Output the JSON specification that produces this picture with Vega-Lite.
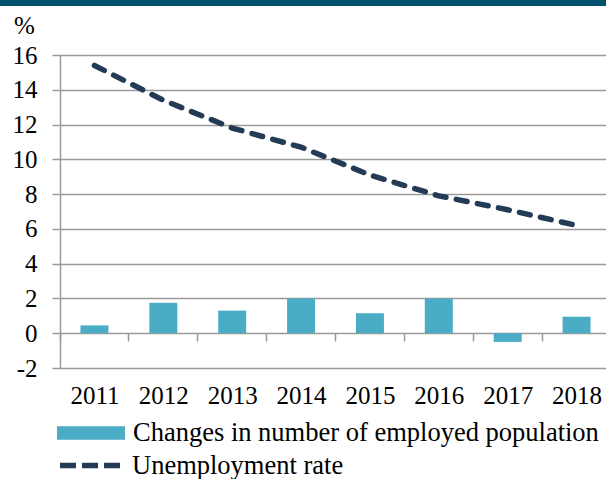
{
  "$schema": "https://vega.github.io/schema/vega-lite/v6.json",
  "width": 551,
  "height": 313,
  "autosize": {"type": "none"},
  "padding": {"left": 60, "top": 55, "right": 0, "bottom": 111},
  "background": "white",
  "config": {
    "view": {"stroke": null},
    "font": "Liberation Serif",
    "axis": {
      "labelFont": "Liberation Serif",
      "labelFontSize": 25,
      "labelColor": "black",
      "titleFont": "Liberation Serif",
      "titleFontSize": 25,
      "titleFontWeight": "normal",
      "titleColor": "black"
    },
    "legend": {
      "labelFont": "Liberation Serif",
      "labelFontSize": 26.5,
      "labelColor": "black",
      "labelLimit": 600
    }
  },
  "data": {
    "values": [
      {"year": "2011", "change": 0.45, "rate": 15.4},
      {"year": "2012", "change": 1.75, "rate": 13.4},
      {"year": "2013", "change": 1.3, "rate": 11.8},
      {"year": "2014", "change": 2.0, "rate": 10.7},
      {"year": "2015", "change": 1.15, "rate": 9.1},
      {"year": "2016", "change": 2.0, "rate": 7.9},
      {"year": "2017", "change": -0.5, "rate": 7.1},
      {"year": "2018", "change": 0.95, "rate": 6.2}
    ]
  },
  "resolve": {"scale": {"x": "independent", "fill": "independent", "stroke": "independent"}, "axis": {"x": "independent"}, "legend": {"fill": "independent", "stroke": "independent"}},
  "layer": [
    {
      "mark": {"type": "rect", "color": "#03506f", "clip": false},
      "encoding": {
        "x": {"datum": -0.2, "type": "quantitative", "scale": {"domain": [0, 1]}, "axis": null},
        "x2": {"datum": 1.2},
        "y": {
          "datum": 19.4,
          "type": "quantitative",
          "scale": {"domain": [-2, 16], "nice": false, "zero": false},
          "axis": {
            "title": "%",
            "titleAngle": 0,
            "titleX": -36,
            "titleY": -22,
            "titleAlign": "center",
            "titleBaseline": "alphabetic",
            "values": [-2, 0, 2, 4, 6, 8, 10, 12, 14, 16],
            "labelExpr": "'' + datum.value",
            "labelOverlap": false,
            "labelBound": false,
            "labelFlush": false,
            "grid": true,
            "gridColor": "#9a9a9a",
            "gridWidth": 1.5,
            "domainColor": "#9a9a9a",
            "domainWidth": 1.5,
            "tickColor": "#9a9a9a",
            "tickWidth": 1.5,
            "tickSize": 8,
            "labelPadding": 15
          }
        },
        "y2": {"datum": 18.82}
      }
    },
    {
      "mark": {"type": "bar", "size": 28},
      "encoding": {
        "x": {
          "field": "year",
          "type": "nominal",
          "scale": {"type": "band", "paddingInner": 0, "paddingOuter": 0},
          "axis": {
            "title": null,
            "orient": "bottom",
            "offset": -35,
            "labels": false,
            "domain": false,
            "grid": false,
            "ticks": true,
            "bandPosition": 0,
            "tickSize": 8,
            "tickWidth": 1.5,
            "tickColor": "#9a9a9a"
          }
        },
        "y": {
          "field": "change",
          "type": "quantitative",
          "scale": {"domain": [-2, 16], "nice": false, "zero": false},
          "axis": {
            "title": "%",
            "titleAngle": 0,
            "titleX": -36,
            "titleY": -22,
            "titleAlign": "center",
            "titleBaseline": "alphabetic",
            "values": [-2, 0, 2, 4, 6, 8, 10, 12, 14, 16],
            "labelExpr": "'' + datum.value",
            "labelOverlap": false,
            "labelBound": false,
            "labelFlush": false,
            "grid": true,
            "gridColor": "#9a9a9a",
            "gridWidth": 1.5,
            "domainColor": "#9a9a9a",
            "domainWidth": 1.5,
            "tickColor": "#9a9a9a",
            "tickWidth": 1.5,
            "tickSize": 8,
            "labelPadding": 15
          }
        },
        "fill": {
          "datum": "Changes in number of employed population",
          "type": "nominal",
          "scale": {"range": ["#4bacc6"]},
          "legend": {
            "title": null,
            "orient": "none",
            "legendX": -3,
            "legendY": 344,
            "symbolType": "M-1,-0.2H1V0.2H-1Z",
            "symbolSize": 4624,
            "symbolStrokeWidth": 0,
            "labelOffset": 8
          }
        }
      }
    },
    {
      "mark": {"type": "line", "strokeWidth": 5.5, "strokeDash": [11, 10.5], "strokeCap": "round"},
      "encoding": {
        "x": {
          "field": "year",
          "type": "nominal",
          "scale": {"type": "point", "padding": 0.5},
          "axis": {
            "title": null,
            "orient": "bottom",
            "labelAngle": 0,
            "labelOverlap": false,
            "domain": false,
            "ticks": false,
            "grid": false,
            "labelPadding": 15
          }
        },
        "y": {
          "field": "rate",
          "type": "quantitative",
          "scale": {"domain": [-2, 16], "nice": false, "zero": false},
          "axis": {
            "title": "%",
            "titleAngle": 0,
            "titleX": -36,
            "titleY": -22,
            "titleAlign": "center",
            "titleBaseline": "alphabetic",
            "values": [-2, 0, 2, 4, 6, 8, 10, 12, 14, 16],
            "labelExpr": "'' + datum.value",
            "labelOverlap": false,
            "labelBound": false,
            "labelFlush": false,
            "grid": true,
            "gridColor": "#9a9a9a",
            "gridWidth": 1.5,
            "domainColor": "#9a9a9a",
            "domainWidth": 1.5,
            "tickColor": "#9a9a9a",
            "tickWidth": 1.5,
            "tickSize": 8,
            "labelPadding": 15
          }
        },
        "stroke": {
          "datum": "Unemployment rate",
          "type": "nominal",
          "scale": {"range": ["#243b55"]},
          "legend": {
            "title": null,
            "orient": "none",
            "legendX": -3,
            "legendY": 377,
            "symbolType": "stroke",
            "symbolSize": 3721,
            "symbolStrokeWidth": 5.5,
            "symbolDash": [16, 6],
            "labelOffset": 8
          }
        }
      }
    }
  ]
}
